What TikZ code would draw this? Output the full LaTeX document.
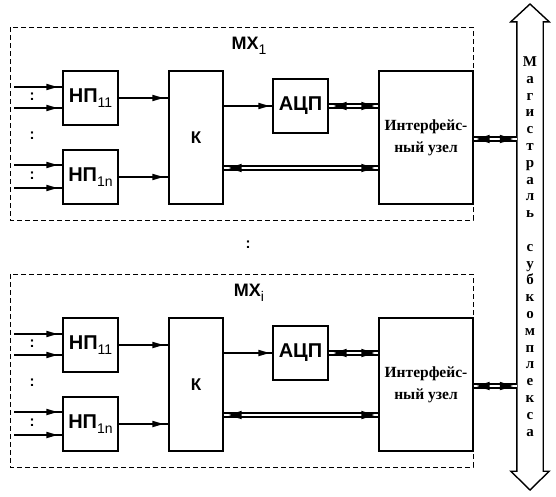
\documentclass[tikz,border=0pt]{standalone}
\usepackage{fontspec}
\setmainfont{Liberation Serif}
\setsansfont{Liberation Sans}
\usetikzlibrary{decorations.markings,calc}
\newcommand\lowidx[1]{\raisebox{-4.5pt}{\fontsize{14}{14}\selectfont\mdseries #1}}
\begin{document}
\begin{tikzpicture}[x=1pt,y=-1pt,
  blk/.style={draw, line width=1.4pt, inner sep=0pt, font=\sffamily\bfseries\fontsize{20}{20}\selectfont},
  modbox/.style={draw, dash pattern=on 5pt off 3pt, line width=0.8pt},
  conn/.style={line width=1.4pt},
  dconn/.style={double, double distance=2.7pt, line width=1.3pt},
  dots/.style={font=\sffamily\bfseries\fontsize{15}{15}\selectfont, inner sep=0pt},
  fwd/.style={postaction={decorate,decoration={markings,mark=at position #1 with {\fill (0pt,0pt) -- (-11pt,3.3pt) -- (-11pt,-3.3pt) -- cycle;}}}},
  dfwd/.style={postaction={decorate,decoration={markings,mark=at position #1 with {\fill (0pt,0pt) -- (-13pt,4.3pt) -- (-13pt,-4.3pt) -- cycle;}}}},
  dbwd/.style={postaction={decorate,decoration={markings,mark=at position #1 with {\fill (0pt,0pt) -- (13pt,4.3pt) -- (13pt,-4.3pt) -- cycle;}}}},
]
\useasboundingbox (0,0) rectangle (556,496);

% system bus
\node[minimum width=26pt, minimum height=449pt, inner sep=0pt, align=center,
      font=\bfseries\fontsize{15}{16.8}\selectfont] (bus) at (530,246.5)
  {М\\а\\г\\и\\с\\т\\р\\а\\л\\ь\\\mbox{}\\с\\у\\б\\к\\о\\м\\п\\л\\е\\к\\с\\а};
\draw[line width=1.4pt] (bus.north west) -- ++(-6,0) -- (bus.north |- 0,4)
  -- ($(bus.north east)+(6,0)$) -- (bus.north east) -- (bus.south east)
  -- ++(6,0) -- (bus.south |- 0,490) -- ($(bus.south west)+(-6,0)$)
  -- (bus.south west) -- cycle;

\node[dots] (mid) at (248,245) {:};

\foreach \o/\s/\m in {0/a/1, 247/b/i}{
\begin{scope}[shift={(0,\o)}]
  \draw[modbox] (10,27) rectangle (473,220);
  \node[font=\sffamily\bfseries\fontsize{18}{18}\selectfont] (mx\s) at (249,46) {МХ\lowidx{\m}};
  \node[blk, minimum width=55pt, minimum height=54pt] (npA\s) at (90.5,98) {НП\lowidx{11}};
  \node[blk, minimum width=55pt, minimum height=54pt] (npN\s) at (90.5,177) {НП\lowidx{1n}};
  \node[blk, font=\sffamily\bfseries\fontsize{17}{17}\selectfont, minimum width=54pt, minimum height=133pt] (k\s) at (196,137.5) {К};
  \node[blk, minimum width=55pt, minimum height=54pt] (adc\s) at (300.5,106) {АЦП};
  \node[blk, font=\bfseries\fontsize{15.5}{22}\selectfont, align=center, minimum width=94pt, minimum height=133pt] (if\s) at (426,137.5) {Интерфейс-\\ный узел};

  \coordinate (ia\s) at (14,87);
  \coordinate (ib\s) at (14,108);
  \coordinate (ic\s) at (14,165);
  \coordinate (id\s) at (14,188);
  \coordinate (kif\s) at (223,168);
  \coordinate (ifb\s) at (473,139);

  \node[dots] (ca\s) at (32,97) {:};
  \node[dots] (cb\s) at (32,136) {:};
  \node[dots] (cc\s) at (32,176) {:};

  \draw[conn, fwd=-5pt] (ia\s) -- (ia\s -| npA\s.west);
  \draw[conn, fwd=-5pt] (ib\s) -- (ib\s -| npA\s.west);
  \draw[conn, fwd=-5pt] (ic\s) -- (ic\s -| npN\s.west);
  \draw[conn, fwd=-5pt] (id\s) -- (id\s -| npN\s.west);
  \draw[conn, fwd=-5pt] (npA\s.east) -- (npA\s.east -| k\s.west);
  \draw[conn, fwd=-5pt] (npN\s.east) -- (npN\s.east -| k\s.west);
  \draw[conn, fwd=-3pt] (adc\s.west -| k\s.east) -- (adc\s.west);

  \draw[dconn] (adc\s.east) -- (adc\s.east -| if\s.west);
  \path[dbwd=5pt, dfwd=-4pt] (adc\s.east) -- (adc\s.east -| if\s.west);
  \draw[dconn] (kif\s -| k\s.east) -- (kif\s -| if\s.west);
  \path[dbwd=5pt, dfwd=-4pt] (kif\s -| k\s.east) -- (kif\s -| if\s.west);
  \draw[dconn] (ifb\s -| if\s.east) -- (ifb\s -| bus.west);
  \path[dbwd=3pt, dfwd=-4pt] (ifb\s -| if\s.east) -- (ifb\s -| bus.west);
\end{scope}
}
\end{tikzpicture}
\end{document}
